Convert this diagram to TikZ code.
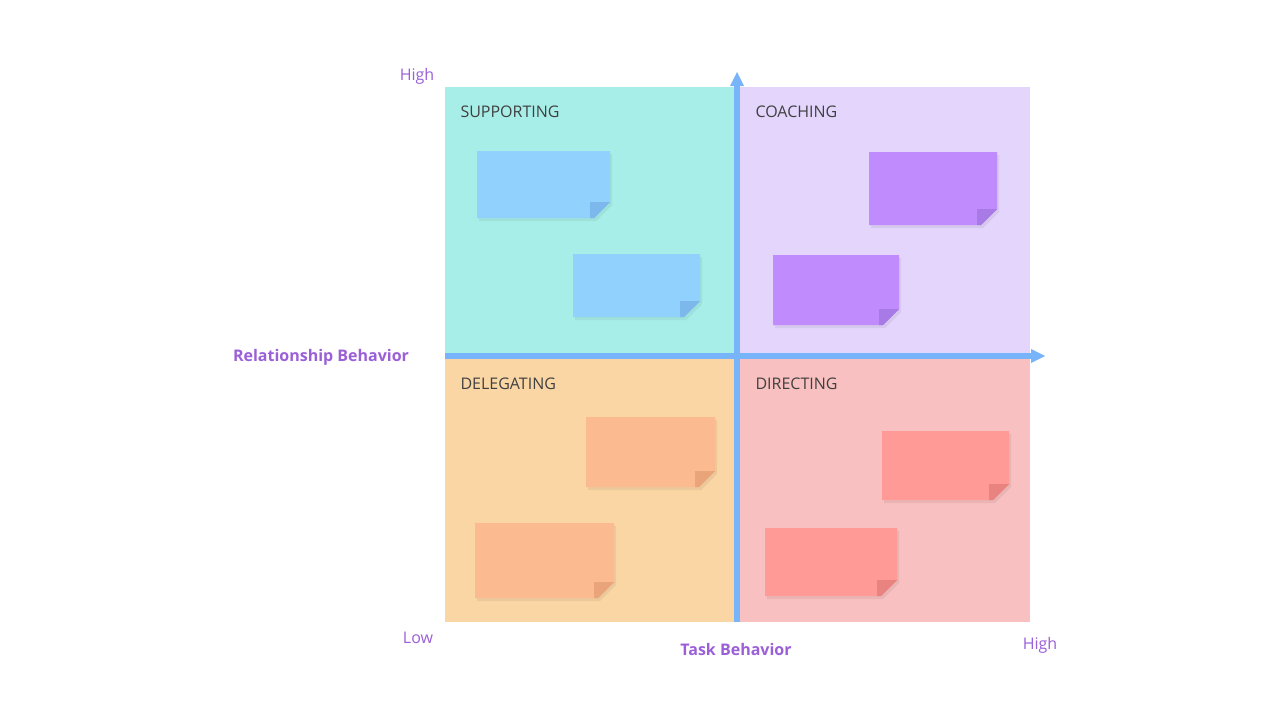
\documentclass[tikz,border=0pt]{standalone}
\usepackage{fontspec}
\setmainfont{Open Sans}
\begin{document}
\begin{tikzpicture}[x=1pt,y=-1pt,
  qlabel/.style={anchor=west,font=\fontsize{16}{18}\selectfont,text=black!75},
  axlabel/.style={font=\fontsize{16}{18}\selectfont\bfseries,text=axpurple},
  endlabel/.style={font=\fontsize{16}{18}\selectfont,text=axpurple}]
\definecolor{axpurple}{HTML}{9B5FD8}
\definecolor{axblue}{HTML}{78B4FA}
\definecolor{qteal}{HTML}{A8EEE8}
\definecolor{qlav}{HTML}{E3D5FB}
\definecolor{qorange}{HTML}{FAD6A5}
\definecolor{qpink}{HTML}{F8C0C0}
\definecolor{nblue}{HTML}{91D1FD}\definecolor{fblue}{HTML}{7DB8EC}
\definecolor{npurple}{HTML}{C08CFD}\definecolor{fpurple}{HTML}{A87AE6}
\definecolor{norange}{HTML}{FBBA8F}\definecolor{forange}{HTML}{EAA47A}
\definecolor{nred}{HTML}{FF9A96}\definecolor{fred}{HTML}{E8837F}
\useasboundingbox (0,0) rectangle (1280,720);
\fill[white] (0,0) rectangle (1280,720);
\fill[qteal] (445,87) rectangle (737,356);
\fill[qlav] (737,87) rectangle (1030,356);
\fill[qorange] (445,356) rectangle (737,622);
\fill[qpink] (737,356) rectangle (1030,622);
\newcommand{\sticky}[6]{%
  \fill[black,opacity=0.06] (#1+2,#2+3) -- (#3+2,#2+3) -- (#3+2,#4-16+3) -- (#3-16+2,#4+3) -- (#1+2,#4+3) -- cycle;
  \fill[#5] (#1,#2) -- (#3,#2) -- (#3,#4-16) -- (#3-16,#4) -- (#1,#4) -- cycle;
  \fill[#6] (#3,#4-16) -- (#3-20,#4-16) -- (#3-20,#4) -- (#3-16,#4) -- cycle;
  \fill[#6] (#3,#4-16) -- (#3-20,#4-16) -- (#3-20,#4) -- cycle;
}
\sticky{477}{151}{610}{218}{nblue}{fblue}
\sticky{573}{254}{700}{317}{nblue}{fblue}
\sticky{869}{152}{997}{225}{npurple}{fpurple}
\sticky{773}{255}{899}{325}{npurple}{fpurple}
\sticky{586}{417}{715}{487}{norange}{forange}
\sticky{475}{523}{614}{598}{norange}{forange}
\sticky{882}{431}{1009}{500}{nred}{fred}
\sticky{765}{528}{897}{596}{nred}{fred}
\coordinate (vb) at (737,622); \coordinate (vt) at (737,72);
\coordinate (hl) at (445,356); \coordinate (hr) at (1045,356);
\draw[axblue,line width=6pt] (vb) -- (737,86);
\fill[axblue] (737,72) -- (744,86) -- (730,86) -- cycle;
\draw[axblue,line width=6pt] (hl) -- (1031,356);
\fill[axblue] (1045,356) -- (1031,349) -- (1031,363) -- cycle;
\node[qlabel] (s) at (457,112) {SUPPORTING};
\node[qlabel] (c) at (752,112) {COACHING};
\node[qlabel] (d) at (457,384) {DELEGATING};
\node[qlabel] (r) at (752,384) {DIRECTING};
\node[endlabel] (h1) at (417,76) {High};
\node[endlabel] (l1) at (418,638) {Low};
\node[endlabel] (h2) at (1040,645) {High};
\node[axlabel] (tb) at (736,649) {Task Behavior};
\node[axlabel] (rb) at (321,357) {Relationship Behavior};
\end{tikzpicture}
\end{document}
